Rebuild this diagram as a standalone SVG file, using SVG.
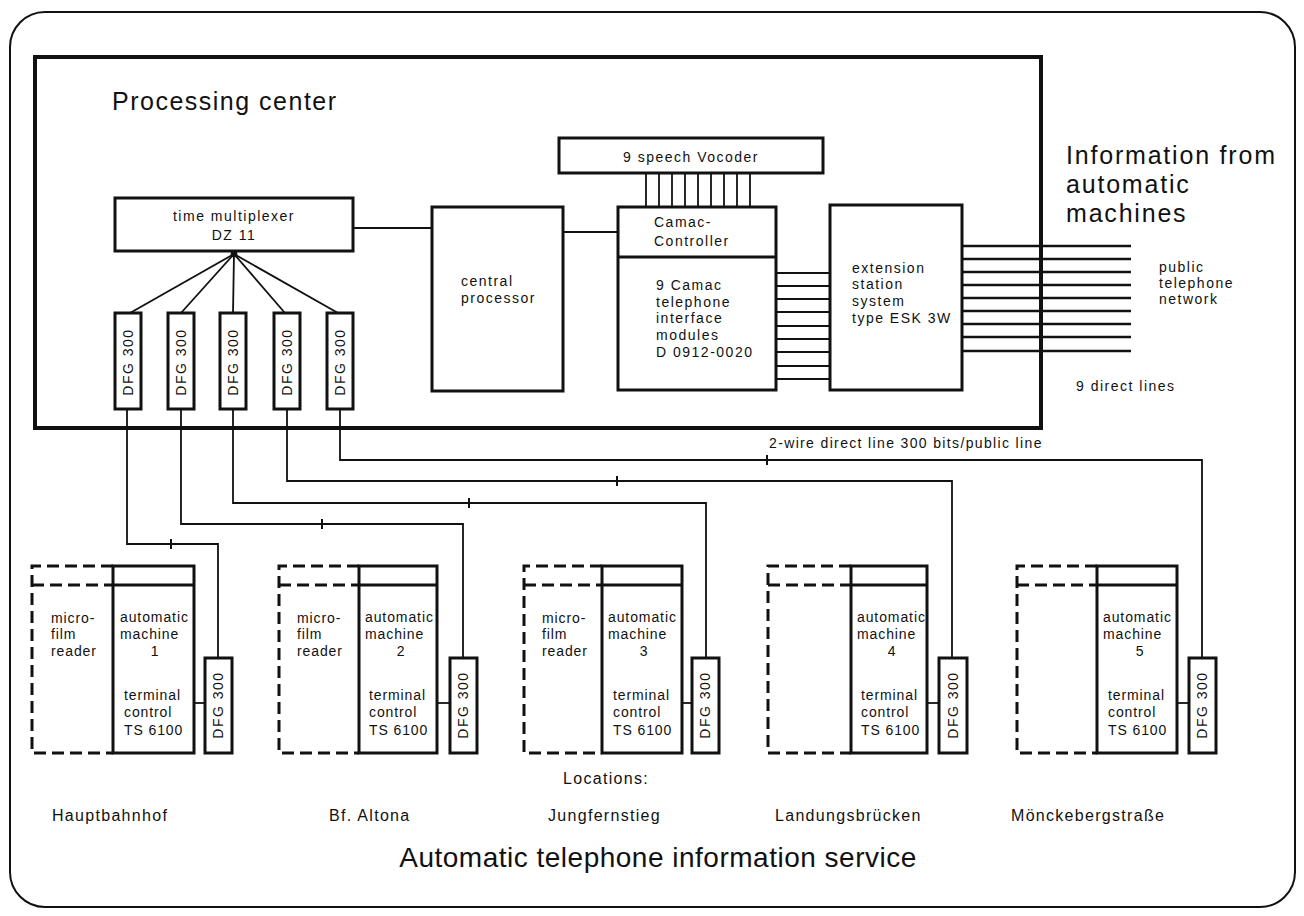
<svg xmlns="http://www.w3.org/2000/svg" width="1304" height="916" viewBox="0 0 1304 916">
<style>
text{font-family:"Liberation Sans",Arial,sans-serif;fill:#111}
.s{font-size:14px;letter-spacing:1.5px}
.m{font-size:14px;letter-spacing:0.9px}
.big{font-size:25px;letter-spacing:1.8px}
.loc{font-size:16px;letter-spacing:1.3px}
.box{fill:#fff;stroke:#111;stroke-width:3}
.thin{fill:none;stroke:#111;stroke-width:1.8}
.dash{fill:none;stroke:#111;stroke-width:3;stroke-dasharray:12 6}
.mid{text-anchor:middle}
</style>
<rect x="10" y="12" width="1285" height="895" rx="35" fill="#fff" stroke="#111" stroke-width="2"/>
<g id="connectors" class="thin">
<polyline points="353,228 432,228"/>
<polyline points="563,232 618,232"/>
<g stroke-width="1.8">
<line x1="646" y1="173" x2="646" y2="207"/><line x1="659" y1="173" x2="659" y2="207"/><line x1="672" y1="173" x2="672" y2="207"/><line x1="685" y1="173" x2="685" y2="207"/><line x1="698" y1="173" x2="698" y2="207"/><line x1="711" y1="173" x2="711" y2="207"/><line x1="724" y1="173" x2="724" y2="207"/><line x1="737" y1="173" x2="737" y2="207"/><line x1="750" y1="173" x2="750" y2="207"/>
</g>
<g stroke-width="2">
<line x1="776" y1="273" x2="830" y2="273"/><line x1="776" y1="286" x2="830" y2="286"/><line x1="776" y1="299" x2="830" y2="299"/><line x1="776" y1="312" x2="830" y2="312"/><line x1="776" y1="326" x2="830" y2="326"/><line x1="776" y1="339" x2="830" y2="339"/><line x1="776" y1="352" x2="830" y2="352"/><line x1="776" y1="366" x2="830" y2="366"/><line x1="776" y1="379" x2="830" y2="379"/>
</g>
<g stroke-width="2.4">
<line x1="962" y1="246" x2="1131" y2="246"/><line x1="962" y1="259" x2="1131" y2="259"/><line x1="962" y1="272" x2="1131" y2="272"/><line x1="962" y1="285" x2="1131" y2="285"/><line x1="962" y1="298" x2="1131" y2="298"/><line x1="962" y1="311" x2="1131" y2="311"/><line x1="962" y1="324" x2="1131" y2="324"/><line x1="962" y1="337" x2="1131" y2="337"/><line x1="962" y1="351" x2="1131" y2="351"/>
</g>
<line x1="234" y1="254" x2="130" y2="313"/>
<line x1="234" y1="254" x2="181" y2="313"/>
<line x1="234" y1="254" x2="233" y2="313"/>
<line x1="234" y1="254" x2="285" y2="313"/>
<line x1="234" y1="254" x2="338" y2="313"/>
<circle cx="234" cy="254" r="2.5" fill="#111"/>
<polyline points="127,409 127,544 218,544 218,658"/>
<polyline points="181,409 181,524 463,524 463,658"/>
<polyline points="233,409 233,503 706,503 706,658"/>
<polyline points="287,409 287,481 952,481 952,658"/>
<polyline points="340,409 340,460 1202,460 1202,658"/>
<g stroke-width="2">
<line x1="171" y1="539" x2="171" y2="549"/>
<line x1="322" y1="519" x2="322" y2="529"/>
<line x1="469" y1="498" x2="469" y2="508"/>
<line x1="617" y1="476" x2="617" y2="486"/>
<line x1="767" y1="455" x2="767" y2="465"/>
</g>
<line x1="194" y1="703" x2="205" y2="703"/>
<line x1="437" y1="703" x2="450" y2="703"/>
<line x1="682" y1="703" x2="692" y2="703"/>
<line x1="927" y1="703" x2="939" y2="703"/>
<line x1="1177" y1="703" x2="1189" y2="703"/>
</g>
<g id="processing-center">
<rect x="35" y="57" width="1006" height="371" fill="none" stroke="#111" stroke-width="4"/>
<text x="112" y="110" style="font-size:25px;letter-spacing:1.5px">Processing center</text>
</g>
<g id="multiplexer">
<rect class="box" x="115" y="198" width="238" height="53"/>
<text class="s mid" x="234" y="221">time multiplexer</text>
<text class="s mid" x="234" y="240">DZ 11</text>
</g>
<g id="dfg-pc1"><rect class="box" x="115" y="313" width="26" height="96"/><text class="s mid" transform="translate(133,362) rotate(-90)">DFG 300</text></g>
<g id="dfg-pc2"><rect class="box" x="168" y="313" width="26" height="96"/><text class="s mid" transform="translate(186,362) rotate(-90)">DFG 300</text></g>
<g id="dfg-pc3"><rect class="box" x="220" y="313" width="26" height="96"/><text class="s mid" transform="translate(238,362) rotate(-90)">DFG 300</text></g>
<g id="dfg-pc4"><rect class="box" x="274" y="313" width="26" height="96"/><text class="s mid" transform="translate(292,362) rotate(-90)">DFG 300</text></g>
<g id="dfg-pc5"><rect class="box" x="327" y="313" width="26" height="96"/><text class="s mid" transform="translate(345,362) rotate(-90)">DFG 300</text></g>
<g id="central-processor">
<rect class="box" x="432" y="207" width="131" height="184"/>
<text class="s" x="461" y="286">central</text>
<text class="s" x="461" y="303">processor</text>
</g>
<g id="vocoder">
<rect class="box" x="559" y="138" width="264" height="35"/>
<text class="s mid" x="691" y="162">9 speech Vocoder</text>
</g>
<g id="camac">
<rect class="box" x="618" y="207" width="158" height="183"/>
<line x1="618" y1="257" x2="776" y2="257" stroke="#111" stroke-width="3"/>
<text class="s" x="654" y="227">Camac-</text>
<text class="s" x="654" y="246">Controller</text>
<text class="s" x="656" y="290">9 Camac</text>
<text class="s" x="656" y="307">telephone</text>
<text class="s" x="656" y="323">interface</text>
<text class="s" x="656" y="340">modules</text>
<text class="s" x="656" y="357">D 0912-0020</text>
</g>
<g id="extension">
<rect class="box" x="830" y="205" width="132" height="185"/>
<text class="s" x="852" y="273">extension</text>
<text class="s" x="852" y="289">station</text>
<text class="s" x="852" y="306">system</text>
<text class="s" x="852" y="323">type ESK 3W</text>
</g>
<g id="info-label">
<text class="big" x="1066" y="164">Information from</text>
<text class="big" x="1066" y="193">automatic</text>
<text class="big" x="1066" y="222">machines</text>
</g>
<g id="public-network">
<text class="s" x="1159" y="272">public</text>
<text class="s" x="1159" y="288">telephone</text>
<text class="s" x="1159" y="304">network</text>
<text class="s" x="1076" y="391">9 direct lines</text>
</g>
<g id="line-label"><text class="s" x="769" y="448" textLength="274" lengthAdjust="spacing">2-wire direct line 300 bits/public line</text></g>
<g id="machine1">
<path class="dash" d="M113,566 H32 V753 H113 M32,585 H113"/>
<rect class="box" x="113" y="566" width="81" height="187" fill="none"/>
<line x1="113" y1="585" x2="194" y2="585" stroke="#111" stroke-width="3"/>
<text class="m" x="51" y="623">micro-</text><text class="m" x="51" y="639">film</text><text class="m" x="51" y="656">reader</text>
<text class="m" x="120" y="622">automatic</text><text class="m" x="120" y="639">machine</text><text class="m mid" x="155" y="656">1</text>
<text class="m" x="124" y="700">terminal</text><text class="m" x="124" y="717">control</text><text class="m" x="124" y="735">TS 6100</text>
<rect class="box" x="205" y="658" width="27" height="95"/><text class="s mid" transform="translate(223,705) rotate(-90)">DFG 300</text>
</g>
<g id="machine2">
<path class="dash" d="M359,566 H279 V753 H359 M279,585 H359"/>
<rect class="box" x="359" y="566" width="78" height="187"/>
<line x1="359" y1="585" x2="437" y2="585" stroke="#111" stroke-width="3"/>
<text class="m" x="297" y="623">micro-</text><text class="m" x="297" y="639">film</text><text class="m" x="297" y="656">reader</text>
<text class="m" x="365" y="622">automatic</text><text class="m" x="365" y="639">machine</text><text class="m mid" x="401" y="656">2</text>
<text class="m" x="369" y="700">terminal</text><text class="m" x="369" y="717">control</text><text class="m" x="369" y="735">TS 6100</text>
<rect class="box" x="450" y="658" width="27" height="95"/><text class="s mid" transform="translate(468,705) rotate(-90)">DFG 300</text>
</g>
<g id="machine3">
<path class="dash" d="M602,566 H524 V753 H602 M524,585 H602"/>
<rect class="box" x="602" y="566" width="80" height="187"/>
<line x1="602" y1="585" x2="682" y2="585" stroke="#111" stroke-width="3"/>
<text class="m" x="542" y="623">micro-</text><text class="m" x="542" y="639">film</text><text class="m" x="542" y="656">reader</text>
<text class="m" x="608" y="622">automatic</text><text class="m" x="608" y="639">machine</text><text class="m mid" x="644" y="656">3</text>
<text class="m" x="613" y="700">terminal</text><text class="m" x="613" y="717">control</text><text class="m" x="613" y="735">TS 6100</text>
<rect class="box" x="692" y="658" width="27" height="95"/><text class="s mid" transform="translate(710,705) rotate(-90)">DFG 300</text>
</g>
<g id="machine4">
<path class="dash" d="M851,566 H768 V753 H851 M768,585 H851"/>
<rect class="box" x="851" y="566" width="76" height="187"/>
<line x1="851" y1="585" x2="927" y2="585" stroke="#111" stroke-width="3"/>
<text class="m" x="857" y="622">automatic</text><text class="m" x="857" y="639">machine</text><text class="m mid" x="892" y="656">4</text>
<text class="m" x="861" y="700">terminal</text><text class="m" x="861" y="717">control</text><text class="m" x="861" y="735">TS 6100</text>
<rect class="box" x="939" y="658" width="28" height="95"/><text class="s mid" transform="translate(958,705) rotate(-90)">DFG 300</text>
</g>
<g id="machine5">
<path class="dash" d="M1097,566 H1017 V753 H1097 M1017,585 H1097"/>
<rect class="box" x="1097" y="566" width="80" height="187"/>
<line x1="1097" y1="585" x2="1177" y2="585" stroke="#111" stroke-width="3"/>
<text class="m" x="1103" y="622">automatic</text><text class="m" x="1103" y="639">machine</text><text class="m mid" x="1140" y="656">5</text>
<text class="m" x="1108" y="700">terminal</text><text class="m" x="1108" y="717">control</text><text class="m" x="1108" y="735">TS 6100</text>
<rect class="box" x="1189" y="658" width="27" height="95"/><text class="s mid" transform="translate(1207,705) rotate(-90)">DFG 300</text>
</g>
<g id="locations">
<text class="loc" x="563" y="784">Locations:</text>
<text class="loc" x="52" y="821">Hauptbahnhof</text>
<text class="loc" x="329" y="821">Bf. Altona</text>
<text class="loc" x="548" y="821">Jungfernstieg</text>
<text class="loc" x="775" y="821">Landungsbrücken</text>
<text class="loc" x="1011" y="821">Mönckebergstraße</text>
</g>
<g id="title"><text class="mid" x="658" y="867" style="font-size:28px;letter-spacing:0.5px">Automatic telephone information service</text></g>
</svg>
